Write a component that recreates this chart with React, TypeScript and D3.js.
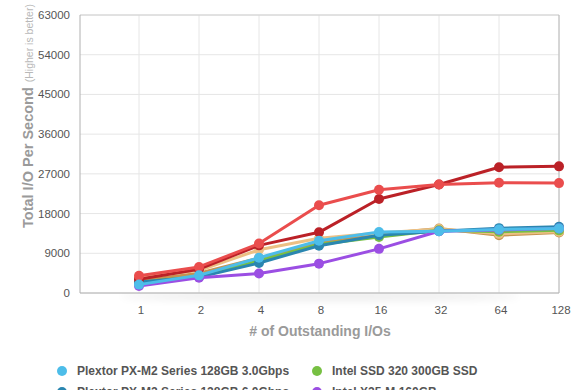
import React from "react";
import * as d3 from "d3";

const categories = ["1", "2", "4", "8", "16", "32", "64", "128"];
const yTicks = [0, 9000, 18000, 27000, 36000, 45000, 54000, 63000];

const seriesNames = [
  "Series F",
  "Series E",
  "Intel SSD 320 300GB SSD",
  "Plextor PX-M2 Series 128GB 6.0Gbps",
  "Intel X25-M 160GB",
  "Series D",
  "Series C",
  "Plextor PX-M2 Series 128GB 3.0Gbps",
];
const seriesColors = ["#c6934f", "#ecc084", "#77c043", "#2a86b0", "#9b4ee3", "#bb2127", "#ea4d4d", "#4dbde9"];

const brownValues = [2800, 4500, 7900, 11300, 13300, 14600, 13100, 13700];
const tanValues = [3500, 5100, 9800, 12400, 13600, 14500, 13400, 13900];
const greenValues = [2300, 3800, 7300, 11000, 12700, 14200, 13900, 14200];
const darkBlueValues = [2500, 3600, 6800, 10700, 13100, 14000, 14700, 15000];
const purpleValues = [1600, 3450, 4400, 6650, 10000, 14000, 14300, 14600];
const darkRedValues = [3100, 5400, 10800, 13750, 21300, 24600, 28500, 28700];
const redValues = [3900, 5900, 11200, 19900, 23400, 24600, 25000, 24900];
const lightBlueValues = [1900, 4000, 8000, 11850, 13800, 14000, 14400, 14600];

const seriesValues = [
  brownValues,
  tanValues,
  greenValues,
  darkBlueValues,
  purpleValues,
  darkRedValues,
  redValues,
  lightBlueValues,
];

const legendNames = [
  "Plextor PX-M2 Series 128GB 3.0Gbps",
  "Intel SSD 320 300GB SSD",
  "Plextor PX-M2 Series 128GB 6.0Gbps",
  "Intel X25-M 160GB",
];
const legendColors = ["#4dbde9", "#77c043", "#2a86b0", "#9b4ee3"];

const FONT = "'Liberation Sans', Arial, Helvetica, sans-serif";

export default function App() {
  const left = 80, right = 559, top = 15, bottom = 293;
  const x = d3.scalePoint<string>().domain(categories).range([139, 559]).padding(0);
  const y = d3.scaleLinear().domain([0, 63000]).range([bottom, top]);
  const line = d3
    .line<number>()
    .x((_, i) => x(categories[i]) as number)
    .y((d) => y(d));

  return (
    <svg
      width={580}
      height={390}
      style={{ position: "absolute", left: 0, top: 0, background: "#fff" }}
      fontFamily={FONT}
    >
      <defs>
        <filter id="blur" x="-20%" y="-200%" width="140%" height="500%">
          <feGaussianBlur stdDeviation="4" />
        </filter>
      </defs>
      <ellipse cx={320} cy={296} rx={200} ry={5} fill="#000" opacity={0.07} filter="url(#blur)" />
      <rect x={left} y={top} width={right - left} height={bottom - top} fill="#fff" />
      {yTicks.map((t) => (
        <line key={"h" + t} x1={left} x2={right} y1={y(t)} y2={y(t)} stroke="#e6e6e6" strokeWidth={1} />
      ))}
      {categories.map((c) => (
        <line key={"v" + c} x1={x(c)} x2={x(c)} y1={top} y2={bottom} stroke="#e6e6e6" strokeWidth={1} />
      ))}
      <line x1={left} x2={right} y1={top} y2={top} stroke="#d0d0d0" />
      <line x1={right} x2={right} y1={top} y2={bottom} stroke="#b8b8b8" />
      <line x1={left} x2={left} y1={top} y2={bottom} stroke="#b0b0b0" />
      <line x1={left} x2={right} y1={bottom} y2={bottom} stroke="#b0b0b0" />

      {yTicks.map((t) => (
        <text key={"yl" + t} x={70} y={y(t)} dy="0.35em" textAnchor="end" fontSize={11.5} fill="#555">
          {t}
        </text>
      ))}
      {categories.map((c) => (
        <text key={"xl" + c} x={(x(c) as number) + 2} y={310} dy="0.35em" textAnchor="middle" fontSize={11.5} fill="#555">
          {c}
        </text>
      ))}
      <text x={320} y={331} dy="0.35em" textAnchor="middle" fontSize={14} fontWeight="bold" fill="#9a9a9a">
        # of Outstanding I/Os
      </text>
      <text transform="translate(27,116) rotate(-90)" textAnchor="middle" dy="0.35em" fill="#9a9a9a">
        <tspan fontSize={14.5} fontWeight="bold">Total I/O Per Second</tspan>
        <tspan fontSize={10.5} fill="#b8b8b8" dx={5}>(Higher is better)</tspan>
      </text>

      {seriesValues.map((vals, si) => (
        <g key={seriesNames[si]}>
          <path d={line(vals) || ""} fill="none" stroke={seriesColors[si]} strokeWidth={3} strokeLinejoin="round" />
          {vals.map((v, i) => (
            <circle key={i} cx={x(categories[i])} cy={y(v)} r={5} fill={seriesColors[si]} />
          ))}
        </g>
      ))}

      {legendNames.map((n, i) => {
        const col = i % 2;
        const row = Math.floor(i / 2);
        const lx = col === 0 ? 62 : 317;
        const ly = 371 + row * 21;
        return (
          <g key={n}>
            <circle cx={lx} cy={ly} r={5} fill={legendColors[i]} />
            <text x={lx + 15} y={ly} dy="0.35em" fontSize={12} fontWeight={600} fill="#555">
              {n}
            </text>
          </g>
        );
      })}
    </svg>
  );
}
